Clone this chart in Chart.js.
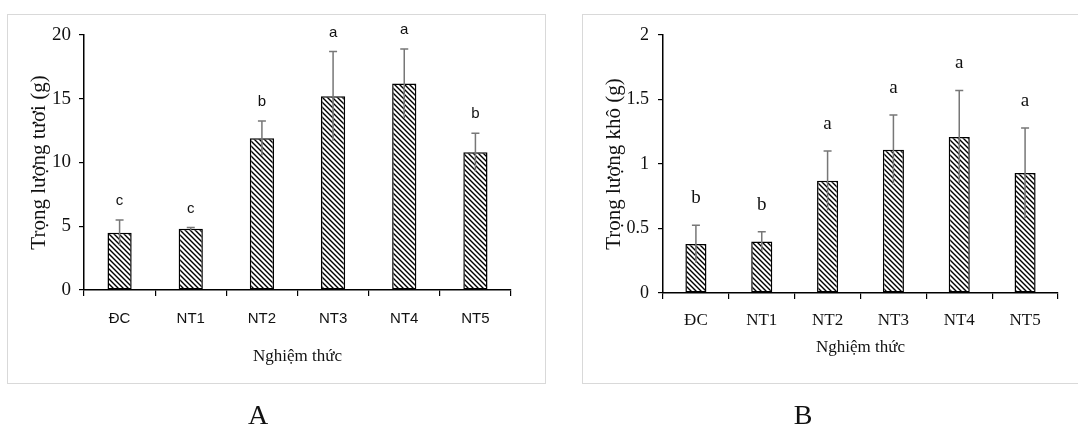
<!DOCTYPE html>
<html>
<head>
<meta charset="utf-8">
<script src="https://cdn.jsdelivr.net/npm/chart.js@4/dist/chart.umd.min.js"></script>
<style>
  body { margin: 0; background: #fff; width: 1078px; height: 427px; overflow: hidden; position: relative; font-family: "Liberation Serif", serif; }
  .box { position: absolute; border: 1px solid #d9d9d9; }
  #boxA { left: 7px; top: 14px; width: 537px; height: 368px; }
  #boxB { left: 582px; top: 14px; width: 520px; height: 368px; }
  canvas { position: absolute; top: 0; }
  #chartA { left: 0; }
  #chartB { left: 545px; }
  .panel { position: absolute; top: 398px; font-size: 28px; line-height: 34px; width: 40px; margin-left: -20px; text-align: center; color: #111; }
</style>
</head>
<body>
<div class="box" id="boxA"></div>
<div class="box" id="boxB"></div>
<canvas id="chartA" width="545" height="400"></canvas>
<canvas id="chartB" width="533" height="400"></canvas>
<div class="panel" style="left:258px">A</div>
<div class="panel" style="left:803px">B</div>
<script>
const categories = ["ĐC", "NT1", "NT2", "NT3", "NT4", "NT5"];

const freshWeight = [4.5, 4.8, 11.9, 15.2, 16.2, 10.8];
const freshError = [1.0, 0.1, 1.35, 3.5, 2.7, 1.5];
const freshLetters = ["c", "c", "b", "a", "a", "b"];
const freshTicks = [0, 5, 10, 15, 20];

const dryWeight = [0.38, 0.40, 0.87, 1.11, 1.21, 0.93];
const dryError = [0.145, 0.075, 0.23, 0.27, 0.36, 0.35];
const dryLetters = ["b", "b", "a", "a", "a", "a"];
const dryTicks = [0, 0.5, 1, 1.5, 2];

function hatch() {
  const c = document.createElement("canvas");
  c.width = c.height = 5;
  const g = c.getContext("2d");
  g.fillStyle = "#fff";
  g.fillRect(0, 0, 5, 5);
  g.strokeStyle = "#000";
  g.lineWidth = 1.4;
  g.beginPath();
  g.moveTo(-1, -1); g.lineTo(6, 6);
  g.moveTo(-1, 4); g.lineTo(1, 6);
  g.moveTo(4, -1); g.lineTo(6, 1);
  g.stroke();
  return g.createPattern(c, "repeat");
}

// error bars (top cap only) and significance letters
const errorBars = {
  id: "errorBars",
  afterDatasetsDraw(chart, args, opts) {
    const { ctx } = chart;
    const y = chart.scales.y;
    const values = chart.data.datasets[0].data;
    ctx.save();
    chart.getDatasetMeta(0).data.forEach((bar, i) => {
      const top = y.getPixelForValue(values[i] + opts.errors[i]);
      const bottom = y.getPixelForValue(values[i] - opts.errors[i]);
      ctx.strokeStyle = "#777";
      ctx.lineWidth = 1.5;
      ctx.beginPath();
      ctx.moveTo(bar.x, bottom);
      ctx.lineTo(bar.x, top);
      ctx.moveTo(bar.x - 4, top);
      ctx.lineTo(bar.x + 4, top);
      ctx.stroke();
      ctx.fillStyle = "#111";
      ctx.font = opts.font;
      ctx.textAlign = "center";
      ctx.textBaseline = "middle";
      ctx.fillText(opts.letters[i], bar.x, top - opts.gap);
    });
    ctx.restore();
  }
};
Chart.register(errorBars);

function makeChart(id, cfg) {
  return new Chart(document.getElementById(id), {
    type: "bar",
    data: {
      labels: categories,
      datasets: [{
        data: cfg.values,
        backgroundColor: hatch(),
        borderColor: "#000",
        borderWidth: 1.5,
        borderSkipped: false,
        categoryPercentage: 1,
        barPercentage: cfg.barPct
      }]
    },
    options: {
      responsive: false,
      animation: false,
      events: [],
      layout: { padding: cfg.padding },
      plugins: {
        legend: { display: false },
        tooltip: { enabled: false },
        errorBars: { errors: cfg.errors, letters: cfg.letters, font: cfg.letterFont, gap: cfg.gap }
      },
      scales: {
        x: {
          grid: { offset: true, drawOnChartArea: false, tickLength: 6, tickColor: "#000", lineWidth: 1.2 },
          border: { color: "#000", width: 1.5 },
          ticks: { color: "#111", font: cfg.xFont, padding: cfg.xPad },
          title: {
            display: true, text: "Nghiệm thức", color: "#111",
            font: { family: "Liberation Serif", size: 17 },
            padding: { top: 0, bottom: cfg.xTitlePad }
          },
          afterFit: s => { s.height = cfg.xHeight; }
        },
        y: {
          min: 0,
          max: cfg.ticks[cfg.ticks.length - 1],
          afterBuildTicks: s => { s.ticks = cfg.ticks.map(v => ({ value: v })); },
          grid: { drawOnChartArea: false, tickLength: 5, tickColor: "#000", lineWidth: 1.2 },
          border: { color: "#000", width: 1.5 },
          ticks: { color: "#111", font: cfg.yFont, padding: cfg.yPad, callback: v => String(v) },
          title: {
            display: true, text: cfg.yTitle, color: "#111",
            font: { family: "Liberation Serif", size: 21 },
            padding: { top: cfg.yTitlePad, bottom: 0 }
          },
          afterFit: s => { s.width = cfg.yWidth; }
        }
      }
    }
  });
}

makeChart("chartA", {
  values: freshWeight, errors: freshError, letters: freshLetters, ticks: freshTicks,
  yTitle: "Trọng lượng tươi (g)",
  barPct: 0.34,
  padding: { left: 0, top: 35, right: 34, bottom: 30 },
  xHeight: 80, yWidth: 84,
  xFont: { family: "Liberation Sans", size: 15 }, xPad: 14, xTitlePad: 3,
  yFont: { family: "Liberation Serif", size: 19 }, yPad: 8, yTitlePad: 27,
  letterFont: "15px 'Liberation Sans'", gap: 19
});

makeChart("chartB", {
  values: dryWeight, errors: dryError, letters: dryLetters, ticks: dryTicks,
  yTitle: "Trọng lượng khô (g)",
  barPct: 0.32,
  padding: { left: 0, top: 35, right: 20, bottom: 37 },
  xHeight: 70, yWidth: 118,
  xFont: { family: "Liberation Serif", size: 17 }, xPad: 11, xTitlePad: 5,
  yFont: { family: "Liberation Serif", size: 18 }, yPad: 9, yTitlePad: 57,
  letterFont: "19px 'Liberation Serif'", gap: 27
});
</script>
</body>
</html>
